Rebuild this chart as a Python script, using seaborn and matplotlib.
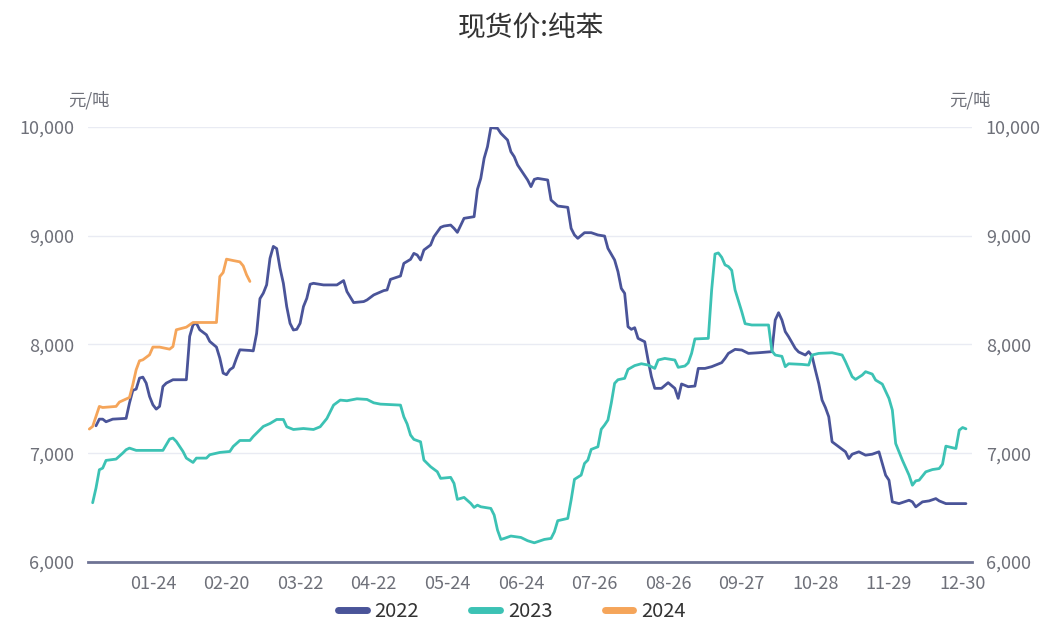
import pandas as pd
import matplotlib.pyplot as plt
import seaborn as sns
from matplotlib.ticker import FuncFormatter

# trading-day index within the year, value in 元/吨
x_2022 = [2, 3, 4, 5, 7, 11, 12, 13, 14, 15, 16, 17, 18, 19, 20, 21, 22, 23, 25, 29,
          30, 31, 32, 33, 35, 36, 38, 39, 40, 41, 42, 43, 44, 45, 48, 49, 50, 51, 52, 53,
          54, 55, 56, 57, 58, 59, 60, 61, 62, 63, 64, 65, 66, 67, 70, 74, 76, 77, 79, 82,
          83, 85, 88, 89, 90, 93, 94, 96, 97, 98, 99, 100, 102, 103, 105, 106, 108, 109, 110, 112,
          115, 116, 117, 118, 119, 120, 122, 123, 125, 126, 127, 128, 129, 131, 132, 133, 134, 137, 138, 140,
          143, 144, 145, 146, 148, 150, 152, 154, 155, 157, 158, 159, 160, 161, 162, 163, 164, 166, 167, 168,
          169, 171, 173, 175, 176, 177, 179, 181, 182, 184, 186, 188, 189, 190, 191, 193, 195, 197, 200, 204,
          205, 206, 207, 208, 209, 211, 212, 214, 215, 216, 217, 218, 219, 220, 221, 222, 224, 226, 227, 228,
          230, 232, 234, 236, 237, 238, 239, 240, 242, 245, 246, 247, 249, 251, 253, 254, 256, 262]
y_2022 = [7252, 7313, 7313, 7289, 7313, 7320, 7460, 7577, 7589, 7690, 7699, 7644, 7522, 7445, 7405, 7430, 7613, 7644, 7675, 7675,
          8073, 8180, 8195, 8134, 8088, 8027, 7975, 7874, 7736, 7721, 7767, 7788, 7874, 7950, 7944, 7940, 8100, 8420, 8470, 8547,
          8790, 8900, 8880, 8700, 8561, 8347, 8193, 8132, 8138, 8193, 8347, 8423, 8552, 8561, 8546, 8546, 8586, 8485, 8384, 8393,
          8408, 8454, 8494, 8500, 8597, 8628, 8744, 8781, 8836, 8821, 8775, 8867, 8913, 8989, 9075, 9087, 9096, 9066, 9029, 9158,
          9173, 9424, 9525, 9709, 9816, 9991, 9985, 9939, 9877, 9770, 9724, 9648, 9602, 9510, 9449, 9516, 9525, 9510, 9326, 9271,
          9259, 9066, 9005, 8974, 9026, 9026, 9005, 8995, 8882, 8775, 8668, 8514, 8469, 8162, 8138, 8153, 8055, 8024, 7856, 7703,
          7596, 7596, 7648, 7596, 7504, 7636, 7611, 7617, 7779, 7779, 7795, 7819, 7832, 7871, 7917, 7954, 7948, 7917, 7923, 7933,
          8224, 8291, 8224, 8117, 8070, 7963, 7930, 7902, 7933, 7893, 7764, 7641, 7488, 7420, 7335, 7105, 7059, 7013, 6951, 6991,
          7013, 6982, 6991, 7013, 6905, 6798, 6752, 6553, 6537, 6568, 6553, 6507, 6553, 6562, 6583, 6562, 6537, 6537]

x_2023 = [1, 2, 3, 4, 5, 8, 10, 11, 12, 14, 22, 24, 25, 26, 28, 29, 31, 32, 35, 36,
          39, 42, 43, 45, 48, 49, 52, 54, 56, 58, 59, 61, 64, 67, 69, 71, 73, 75, 77, 80,
          83, 85, 87, 93, 94, 95, 96, 97, 99, 100, 102, 104, 105, 108, 109, 110, 112, 114, 115, 116,
          117, 120, 121, 122, 123, 124, 126, 129, 131, 133, 136, 138, 139, 140, 143, 144, 145, 147, 148, 149,
          150, 152, 153, 154, 155, 156, 157, 158, 160, 161, 163, 165, 167, 169, 170, 172, 175, 176, 178, 179,
          180, 181, 185, 186, 187, 188, 189, 190, 191, 192, 193, 194, 195, 196, 198, 203, 204, 205, 207, 208,
          209, 213, 215, 216, 218, 222, 225, 226, 228, 229, 231, 232, 234, 235, 237, 239, 240, 241, 243, 245,
          246, 247, 248, 250, 252, 254, 255, 256, 259, 260, 261, 262]
y_2023 = [6545, 6680, 6848, 6863, 6934, 6946, 7001, 7032, 7047, 7026, 7026, 7130, 7139, 7108, 7016, 6955, 6915, 6955, 6955, 6986,
          7007, 7016, 7062, 7117, 7117, 7154, 7246, 7273, 7310, 7310, 7243, 7218, 7227, 7218, 7243, 7319, 7442, 7488, 7482, 7500,
          7494, 7463, 7451, 7442, 7335, 7268, 7167, 7127, 7105, 6937, 6876, 6830, 6769, 6778, 6723, 6576, 6594, 6539, 6502, 6523,
          6508, 6493, 6432, 6294, 6208, 6217, 6239, 6226, 6196, 6177, 6208, 6217, 6278, 6380, 6401, 6570, 6760, 6799, 6906, 6937,
          7035, 7059, 7220, 7259, 7305, 7460, 7642, 7675, 7688, 7770, 7805, 7822, 7810, 7779, 7856, 7871, 7856, 7789, 7801, 7830,
          7917, 8050, 8055, 8500, 8830, 8840, 8800, 8730, 8715, 8680, 8500, 8400, 8300, 8190, 8178, 8178, 7940, 7902, 7890, 7795,
          7822, 7816, 7810, 7902, 7917, 7923, 7902, 7841, 7703, 7678, 7718, 7749, 7727, 7672, 7635, 7503, 7396, 7089, 6936, 6798,
          6706, 6746, 6752, 6829, 6850, 6859, 6900, 7065, 7043, 7212, 7236, 7224]

x_2024 = [0, 1, 3, 4, 8, 9, 12, 13, 14, 15, 16, 18, 19, 21, 24, 25, 26, 29, 31, 38,
          39, 40, 41, 43, 45, 46, 47, 48]
y_2024 = [7222, 7246, 7430, 7420, 7430, 7470, 7512, 7629, 7766, 7849, 7858, 7904, 7975, 7975, 7956, 7980, 8134, 8158, 8201, 8201,
          8623, 8660, 8783, 8770, 8758, 8721, 8639, 8578]

tick_pos = [19, 41, 63, 85, 107, 129, 151, 173, 195, 217, 239, 261]
tick_labels = ['01-24', '02-20', '03-22', '04-22', '05-24', '06-24',
               '07-26', '08-26', '09-27', '10-28', '11-29', '12-30']
years = ['2022', '2023', '2024']
colors = ['#4a5499', '#3cc2b4', '#f5a55a']


def build_frame():
    parts = []
    for yr, xs, ys in zip(years, [x_2022, x_2023, x_2024], [y_2022, y_2023, y_2024]):
        parts.append(pd.DataFrame({'day': xs, 'price': ys, 'year': yr}))
    return pd.concat(parts, ignore_index=True)


def main():
    sns.set_theme(style='white')
    plt.rcParams['font.family'] = ['Noto Sans CJK SC', 'DejaVu Sans']

    df = build_frame()
    fig = plt.figure(figsize=(10.51, 6.28), dpi=100)
    ax = fig.add_axes([0.0837, 0.105, 0.8411, 0.6933])

    sns.lineplot(data=df, x='day', y='price', hue='year', palette=colors,
                 estimator=None, sort=True, linewidth=2.0, ax=ax, legend=False)

    ax.set_xlim(-0.4, 263.8)
    ax.set_ylim(6000, 10000)
    ax.set_yticks([6000, 7000, 8000, 9000, 10000])
    ax.yaxis.set_major_formatter(FuncFormatter(lambda v, p: f'{int(v):,}'))
    ax.set_xticks(tick_pos)
    ax.set_xticklabels(tick_labels)
    ax.set_xlabel('')
    ax.set_ylabel('')

    ax.grid(axis='y', color='#e9ebf3', linewidth=1)
    ax.grid(axis='x', visible=False)
    for side in ['left', 'right', 'top']:
        ax.spines[side].set_visible(False)
    ax.spines['bottom'].set_color('#6e7394')
    ax.spines['bottom'].set_linewidth(2)

    ax.tick_params(axis='y', labelleft=True, labelright=True, left=False, right=False,
                   labelsize=13, labelcolor='#6e7079', pad=4)
    ax.tick_params(axis='x', bottom=False, labelsize=13, labelcolor='#6e7079', pad=3)

    fig.text(0.505, 0.955, '现货价:纯苯', ha='center', va='center', fontsize=20, color='#333333')
    fig.text(0.085, 0.84, '元/吨', ha='center', va='center', fontsize=12.5, color='#6e7079')
    fig.text(0.923, 0.84, '元/吨', ha='center', va='center', fontsize=12.5, color='#6e7079')

    handles = [plt.Line2D([], [], color=c, linewidth=5, solid_capstyle='round') for c in colors]
    fig.legend(handles, years, loc='center', bbox_to_anchor=(0.487, 0.026), ncol=3,
               frameon=False, fontsize=14.5, handlelength=1.4, handletextpad=0.4,
               columnspacing=2.6, labelcolor='#333333', borderpad=0.2)

    fig.savefig('out.png', dpi=100)


if __name__ == "__main__":
    main()
